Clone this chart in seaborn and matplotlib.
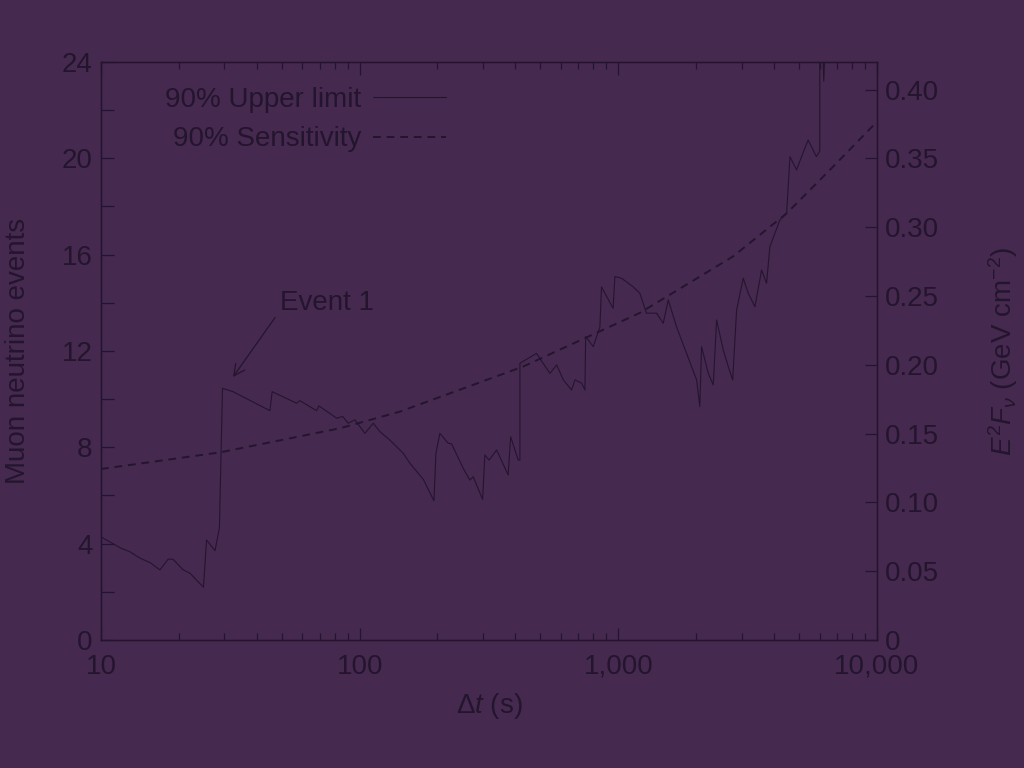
import numpy as np
import pandas as pd
import matplotlib
matplotlib.use('Agg')
import matplotlib.pyplot as plt
import matplotlib.ticker as mticker
import seaborn as sns

# 90% upper limit (events) vs time window (s)
upper_t = [10, 12.0, 12.9, 14.2, 15.5, 16.9, 18.2, 19.0, 20.8, 22.1, 24.9, 25.6, 27.6, 28.7,
           29.5, 32.4, 45.0, 45.9, 57.1, 58.7, 68.2, 69.6, 81.5, 86.1, 90.3, 95.9, 104.8,
           112.9, 119.8, 130.9, 147.5, 156.4, 176.2, 193.8, 197.2, 204.3, 219.9, 226.8,
           251.4, 266.7, 274.7, 298.8, 304.9, 316.7, 338.6, 375.2, 383.6, 410.3, 416.6,
           416.6, 483, 544, 578, 613, 660, 680, 722, 743, 748, 800, 849, 861, 955, 970,
           1030, 1142, 1211, 1285, 1406, 1492, 1560, 1680, 1836, 2008, 2066, 2099, 2228,
           2329, 2399, 2546, 2662, 2768, 2867, 3041, 3179, 3374, 3581, 3743, 3855, 4215,
           4474, 4610, 4889, 5262, 5420, 5834, 6010, 6010, 6120, 6230, 6340, 10000]
upper_n = [4.28, 3.8, 3.67, 3.39, 3.21, 2.91, 3.36, 3.35, 2.91, 2.77, 2.19, 4.15, 3.71, 4.64,
           10.45, 10.31, 9.52, 10.31, 9.83, 9.94, 9.52, 9.72, 9.21, 9.28, 9.0, 9.14, 8.58,
           9.0, 8.65, 8.3, 7.75, 7.34, 6.67, 5.78, 7.75, 8.58, 8.17, 8.14,
           7.13, 6.64, 6.78, 5.84, 7.68, 7.47, 7.89, 6.85, 8.44, 7.47, 7.47,
           11.49, 11.9, 11.07, 11.42, 10.8, 10.38, 10.8, 10.66, 10.38, 12.6, 12.18, 13.0, 14.66, 13.77, 15.09,
           15.02, 14.66, 14.4, 13.57, 13.57, 13.15, 14.12, 13.0, 11.9, 10.8, 9.69, 12.18, 11.07,
           10.59, 13.29, 12.04, 11.35, 10.8, 13.7, 15.02, 14.4, 13.84, 15.36, 14.81, 16.33, 17.44,
           17.72, 20.07, 19.52, 20.42, 20.76, 20.07, 20.3, 25.0, 25.5, 23.2, 25.5, 26.0]

# 90% sensitivity (events)
sens_t = [10, 28.9, 83.9, 143, 428, 1211, 2772, 4483, 6580, 10000]
sens_n = [7.1, 7.79, 8.79, 9.48, 11.35, 13.58, 15.92, 17.72, 19.52, 21.52]

upper_df = pd.DataFrame({'t': upper_t, 'n': upper_n})
sens_df = pd.DataFrame({'t': sens_t, 'n': sens_n})

bg = '#45294f'
ink = '#24152e'

sns.set_theme(style='ticks')
plt.rcParams['font.family'] = ['Liberation Sans', 'DejaVu Sans']
plt.rcParams['mathtext.fontset'] = 'custom'
plt.rcParams['mathtext.rm'] = 'Liberation Sans'
plt.rcParams['mathtext.it'] = 'Liberation Sans:italic'
plt.rcParams['text.color'] = ink
plt.rcParams['axes.labelcolor'] = ink
plt.rcParams['xtick.color'] = ink
plt.rcParams['ytick.color'] = ink

fig = plt.figure(figsize=(10.24, 7.68), dpi=100, facecolor=bg)
ax = fig.add_axes([0.0986, 0.1667, 0.7578, 0.7526])
ax.set_facecolor(bg)

sns.lineplot(data=upper_df, x='t', y='n', ax=ax, estimator=None, sort=False,
             color=ink, linewidth=0.8, label='90% Upper limit')
sns.lineplot(data=sens_df, x='t', y='n', ax=ax, estimator=None, sort=False,
             color=ink, linewidth=1.4, linestyle=(0, (4, 3)), label='90% Sensitivity')

ax.set_xscale('log')
ax.set_xlim(10, 10000)
ax.set_ylim(0, 24)
ax.xaxis.set_major_locator(mticker.FixedLocator([10, 100, 1000, 10000]))
ax.xaxis.set_major_formatter(mticker.FuncFormatter(lambda v, p: f'{int(round(v)):,}'))
ax.xaxis.set_minor_locator(mticker.LogLocator(base=10, subs=np.arange(2, 10)))
ax.xaxis.set_minor_formatter(mticker.NullFormatter())
ax.yaxis.set_major_locator(mticker.MultipleLocator(4))
ax.yaxis.set_minor_locator(mticker.MultipleLocator(2))

ax.tick_params(axis='both', which='both', direction='in', labelsize=20, width=0.9)
ax.tick_params(axis='x', which='both', top=True)
ax.tick_params(axis='x', which='major', length=9, pad=10)
ax.tick_params(axis='x', which='minor', length=5)
ax.tick_params(axis='y', which='both', length=9, pad=6)
for s in ax.spines.values():
    s.set_color(ink)
    s.set_linewidth(0.9)

ax.set_xlabel(r'$\Delta t$ (s)', fontsize=20, labelpad=8)
ax.set_ylabel('Muon neutrino events', fontsize=20, labelpad=22)

ax2 = ax.twinx()
ax2.set_ylim(0, 0.42)
ax2.yaxis.set_major_locator(mticker.MultipleLocator(0.05))
ax2.yaxis.set_major_formatter(mticker.FuncFormatter(lambda v, p: '0' if abs(v) < 1e-9 else f'{v:.2f}'))
ax2.tick_params(axis='y', direction='in', length=9, width=0.9, labelsize=20, pad=6, colors=ink)
for s in ax2.spines.values():
    s.set_color(ink)
    s.set_linewidth(0.9)
ax2.set_ylabel(r'$E^2F_\nu$ (GeV cm$^{-2}$)', fontsize=20, labelpad=34)

ax.annotate('Event 1', xy=(32.4, 10.92), xytext=(49.2, 14.0), fontsize=20,
            va='center', ha='left', color=ink,
            arrowprops=dict(arrowstyle='->', color=ink, lw=0.9, shrinkA=2, shrinkB=0,
                            mutation_scale=20, relpos=(0.0, 0.2)))

leg = ax.legend(loc='upper left', bbox_to_anchor=(0.05, 1.0), frameon=False,
                markerfirst=False, fontsize=20, handlelength=2.6, labelspacing=0.48,
                handletextpad=0.45)
for t in leg.get_texts():
    t.set_color(ink)
    t.set_ha('right')

fig.savefig('out.png', dpi=100, facecolor=bg)
